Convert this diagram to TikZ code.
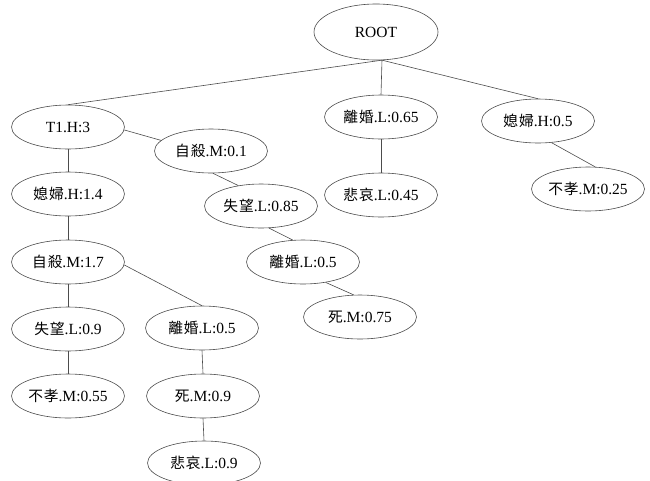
\documentclass[tikz,border=0pt]{standalone}
\usepackage{fontspec}
\setmainfont{Liberation Serif}
\newfontfamily\cjk[Scale=0.95,LetterSpace=6]{Noto Sans CJK TC}
\usetikzlibrary{shapes.geometric}
\newcommand{\zh}[1]{{\cjk #1}}
\tikzset{
  tn/.style={ellipse, draw=black!70, line width=0.6pt, minimum width=113pt,
    minimum height=44pt, inner sep=0pt, font=\fontsize{15.5}{18}\selectfont},
  rootn/.style={tn, minimum width=124pt, minimum height=56pt},
  conn/.style={draw=black!70, line width=0.6pt}
}
\begin{document}
\begin{tikzpicture}[x=1pt,y=-1pt]
\useasboundingbox[fill=white] (0,0) rectangle (650,480);
\node[rootn] (R) at (376,32) {ROOT};
\node[tn] (T1) at (68,127) {T1.H:3};
\node[tn] (S01) at (211,151) {\zh{自殺}.M:0.1};
\node[tn] (L065) at (381,117) {\zh{離婚}.L:0.65};
\node[tn] (H05) at (538,121) {\zh{媳婦}.H:0.5};
\node[tn] (G045) at (381,195) {\zh{悲哀}.L:0.45};
\node[tn] (N025) at (588,189) {\zh{不孝}.M:0.25};
\node[tn] (H14) at (68,194) {\zh{媳婦}.H:1.4};
\node[tn] (F085) at (261,206) {\zh{失望}.L:0.85};
\node[tn] (L05R) at (303,262) {\zh{離婚}.L:0.5};
\node[tn] (D075) at (360,317) {\zh{死}.M:0.75};
\node[tn] (S17) at (68,262) {\zh{自殺}.M:1.7};
\node[tn] (F09) at (68,329) {\zh{失望}.L:0.9};
\node[tn] (N055) at (68,396) {\zh{不孝}.M:0.55};
\node[tn] (L05L) at (202,328) {\zh{離婚}.L:0.5};
\node[tn] (D09) at (203,396) {\zh{死}.M:0.9};
\node[tn] (G09) at (204,463) {\zh{悲哀}.L:0.9};
\draw[conn] (R.-78) -- (T1.north);
\draw[conn] (R.-78) -- (L065.north);
\draw[conn] (R.-78) -- (H05.north);
\draw[conn] (T1.-3) -- (S01.168);
\draw[conn] (T1.south) -- (H14.north);
\draw[conn] (S01.-85) -- (F085.138);
\draw[conn] (F085.-70) -- (L05R.115);
\draw[conn] (L05R.-42) -- (D075.106);
\draw[conn] (L065.south) -- (G045.north);
\draw[conn] (H05.-58) -- (N025.72);
\draw[conn] (H14.south) -- (S17.north);
\draw[conn] (S17.south) -- (F09.north);
\draw[conn] (F09.south) -- (N055.north);
\draw[conn] (S17.-3) -- (L05L.north);
\draw[conn] (L05L.south) -- (D09.north);
\draw[conn] (D09.south) -- (G09.north);
\end{tikzpicture}
\end{document}
